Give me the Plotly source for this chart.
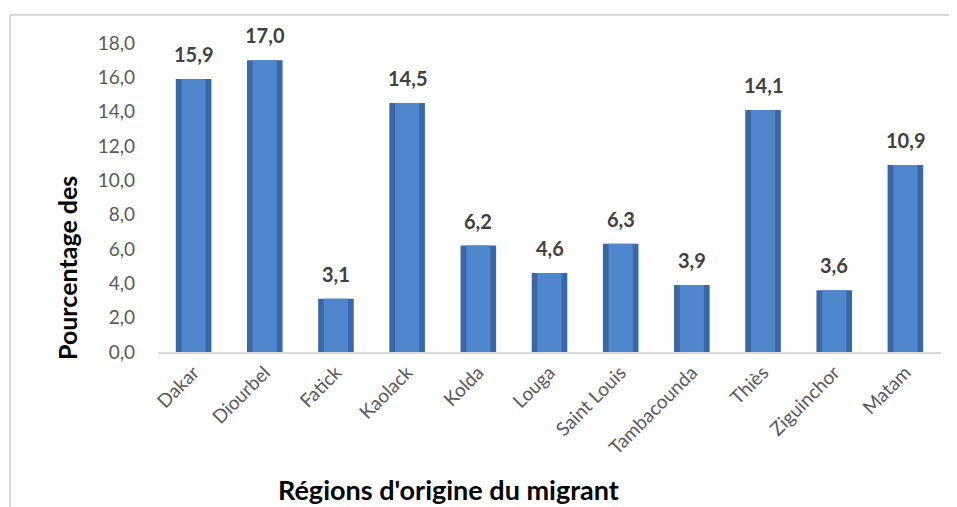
import plotly.graph_objects as go

# =============================================================================
# DATA
# =============================================================================

regions = ['Dakar', 'Diourbel', 'Fatick', 'Kaolack', 'Kolda', 'Louga',
           'Saint Louis', 'Tambacounda', 'Thiès', 'Ziguinchor', 'Matam']
percentages = [15.9, 17.0, 3.1, 14.5, 6.2, 4.6, 6.3, 3.9, 14.1, 3.6, 10.9]
y_ticks = [0, 2, 4, 6, 8, 10, 12, 14, 16, 18]

# =============================================================================
# FIGURE
# =============================================================================

# the page body adds an 8px margin, so page pixels are shifted by OFF
OFF = 8
W, H = 957, 507
L, T = 158 - OFF, 43 - OFF
R = W - (941 - OFF)
B = H - (352 - OFF)
pw, ph = W - L - R, H - T - B
FONT = 'Lato, Carlito, Calibri, sans-serif'


def px_x(p):
    # page pixel -> paper x
    return (p - OFF - L) / pw


def px_y(p):
    # page pixel -> paper y
    return (H - B - (p - OFF)) / ph


fig = go.Figure()

# darker outer bar + lighter inner bar to mimic the shaded Excel columns
fig.add_trace(go.Bar(
    x=regions, y=percentages, width=0.5,
    marker=dict(color='#3A67A6', line=dict(width=0)),
    hoverinfo='skip', showlegend=False
))
fig.add_trace(go.Bar(
    x=regions, y=percentages, width=0.34,
    marker=dict(color='#4F86CC', line=dict(width=0)),
    hovertemplate='%{x}: %{y:.1f}<extra></extra>', showlegend=False
))

# value labels above the bars
for r, v in zip(regions, percentages):
    fig.add_annotation(
        x=r, y=v, text='<b>%s</b>' % f'{v:.1f}'.replace('.', ','),
        showarrow=False, yanchor='bottom', yshift=11,
        font=dict(family=FONT, size=20, color='#404040')
    )

# axis titles
fig.add_annotation(
    text="<b>Régions d'origine du migrant</b>",
    xref='paper', yref='paper', x=px_x(448), y=px_y(489),
    showarrow=False, xanchor='center', yanchor='middle',
    font=dict(family=FONT, size=27, color='#000000')
)
fig.add_annotation(
    text='<b>Pourcentage des</b>',
    xref='paper', yref='paper', x=px_x(67), y=px_y(268),
    showarrow=False, xanchor='center', yanchor='middle', textangle=-90,
    font=dict(family=FONT, size=25, color='#000000')
)

# chart frame (only top and left edges visible in the crop)
fig.add_shape(type='line', xref='paper', yref='paper',
              x0=px_x(10), x1=px_x(980), y0=px_y(15), y1=px_y(15),
              line=dict(color='#D9D9D9', width=2))
fig.add_shape(type='line', xref='paper', yref='paper',
              x0=px_x(10), x1=px_x(10), y0=px_y(15), y1=px_y(530),
              line=dict(color='#D9D9D9', width=2))

fig.update_layout(
    width=W, height=H,
    margin=dict(l=L, r=R, t=T, b=B),
    barmode='overlay',
    separators=', ',
    plot_bgcolor='white',
    paper_bgcolor='white',
    font=dict(family=FONT, color='#595959'),
    xaxis=dict(
        showgrid=False,
        showline=True, linecolor='#D9D9D9', linewidth=2,
        ticks='', tickangle=-45,
        tickfont=dict(family=FONT, size=19, color='#595959'),
        fixedrange=True
    ),
    yaxis=dict(
        range=[0, 18],
        tickvals=y_ticks, tickformat='.1f',
        showgrid=False, zeroline=False, showline=False,
        ticks='', ticklabelstandoff=22,
        tickfont=dict(family=FONT, size=19, color='#595959'),
        fixedrange=True
    )
)

fig.write_html('out.html')
